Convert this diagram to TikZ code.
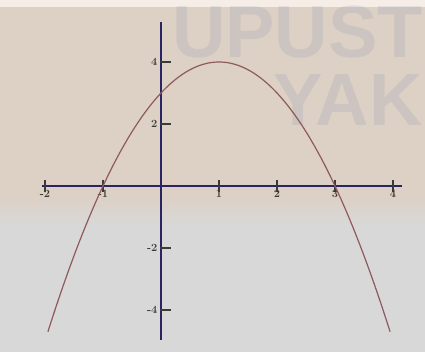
\documentclass[tikz,border=0pt]{standalone}
\usepackage{fontspec}
\newfontfamily\wmfont{Liberation Sans}
\begin{document}
\begin{tikzpicture}[x=1pt,y=-1pt,
  axisline/.style={draw=axisblue,line width=2.4pt},
  curveline/.style={draw=curvered,line width=1.2pt},
  ticklab/.style={font=\fontsize{11}{11}\selectfont\bfseries,text=labgray,inner sep=0.5pt},
  tickmark/.style={draw=labgray,line width=1.2pt},
  watermark/.style={font=\wmfont\bfseries\fontsize{74}{74}\selectfont,text=wmblue,opacity=0.18,inner sep=0pt}]
\definecolor{bgtop}{HTML}{DDD0C4}
\definecolor{bgbot}{HTML}{D8D8D8}
\definecolor{bgstrip}{HTML}{F6EEE6}
\definecolor{axisblue}{HTML}{2B2462}
\definecolor{curvered}{HTML}{8E5A5C}
\definecolor{labgray}{HTML}{3A3A3A}
\definecolor{wmblue}{HTML}{7F92B0}
\useasboundingbox (0,0) rectangle (425,352);
% background
\fill[bgbot] (0,0) rectangle (425,352);
\fill[bgtop] (0,7) rectangle (425,195);
\shade[top color=bgtop,bottom color=bgbot] (0,195) rectangle (425,225);
\fill[bgstrip] (0,0) rectangle (425,7);
% watermark
\node[watermark,anchor=north east] (wm1) at (423,6) {UPUST};
\node[watermark,anchor=north east] (wm2) at (423,74) {YAK};
\begin{scope}[shift={(161,186)},x=58pt,y=31pt]
  % axes
  \coordinate (xl) at (-2.05,0);
  \coordinate (xr) at (4.15,0);
  \coordinate (yt) at (0,5.3);
  \coordinate (yb) at (0,-4.98);
  \draw[axisline] (xl) -- (xr);
  \draw[axisline] (yt) -- (yb);
  % x ticks
  \foreach \v/\t in {-2/-2,-1/-1,1/1,2/2,3/3,4/4}{
    \draw[tickmark] (\v,0.2) -- (\v,-0.2);
    \node[ticklab,anchor=north] (xt\v) at (\v,-0.12) {\t};
  }
  % y ticks
  \foreach \v/\t in {4/4,2/2,-2/-2,-4/-4}{
    \draw[tickmark] (-0.02,\v) -- (0.18,\v);
    \node[ticklab,anchor=east] (yt\v) at (-0.05,\v) {\t};
  }
  % parabola
  \draw[curveline,domain=-1.95:3.95,samples=120,smooth] plot (\x,{-(\x-1)*(\x-1)+4});
\end{scope}
\end{tikzpicture}
\end{document}
